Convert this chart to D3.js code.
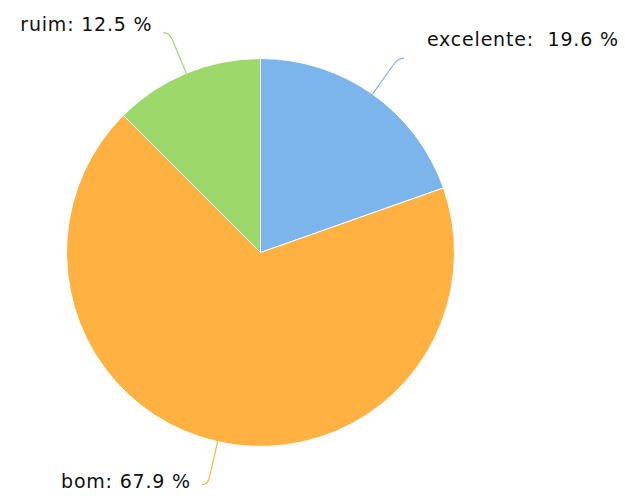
<!DOCTYPE html>
<html>
<head>
<meta charset="utf-8">
<script src="https://cdn.jsdelivr.net/npm/d3@7"></script>
<style>
  body { margin: 0; background: #fff; }
  text { font-family: "DejaVu Sans", sans-serif; font-size: 19px; fill: #111; white-space: pre; }
</style>
</head>
<body>
<svg width="625" height="496"></svg>
<script>
var categories = ['excelente', 'bom', 'ruim']
var values = [19.6, 67.9, 12.5]
var labels = ['excelente:  19.6 %', 'bom: 67.9 %', 'ruim: 12.5 %']
var colors = ['#7cb5ec', '#ffb142', '#9dd86b']

var data = categories.map(function (c, i) {
  return { name: c, value: values[i], label: labels[i], color: colors[i] }
})

var svg = d3.select('svg')
var cx = 260.5, cy = 252.5, r = 194

var pie = d3.pie().sort(null).value(function (d) { return d.value })
var arc = d3.arc().innerRadius(0).outerRadius(r)
var arcs = pie(data)

var g = svg.append('g').attr('transform', 'translate(' + cx + ',' + cy + ')')

g.selectAll('path.slice')
    .data(arcs)
    .enter()
    .append('path')
    .attr('class', 'slice')
    .attr('d', arc)
    .attr('fill', function (d) { return d.data.color })
    .attr('stroke', '#fff')
    .attr('stroke-width', 1)

// label nudges relative to connector end
var labelDx = { excelente: 23, bom: -11, ruim: -11 }
var labelDy = { excelente: -12, bom: 3, ruim: -2 }

function pt (a, rad) {
  return [Math.sin(a) * rad, -Math.cos(a) * rad]
}

arcs.forEach(function (d) {
  var a = (d.startAngle + d.endAngle) / 2
  var right = Math.sin(a) >= 0
  var p0 = pt(a, r)
  var p1 = pt(a, r + 36)
  var p2 = pt(a, r + 44)
  var end = [p2[0] + (right ? 6 : -6), p2[1]]

  g.append('path')
      .attr('d', 'M' + p0 + 'L' + p1 + 'Q' + p2 + ' ' + end)
      .attr('fill', 'none')
      .attr('stroke', d.data.color)
      .attr('stroke-width', 1.2)

  g.append('text')
      .attr('x', end[0] + labelDx[d.data.name])
      .attr('y', end[1] + labelDy[d.data.name])
      .attr('text-anchor', right ? 'start' : 'end')
      .attr('letter-spacing', 0.8)
      .text(d.data.label)
})
</script>
</body>
</html>
